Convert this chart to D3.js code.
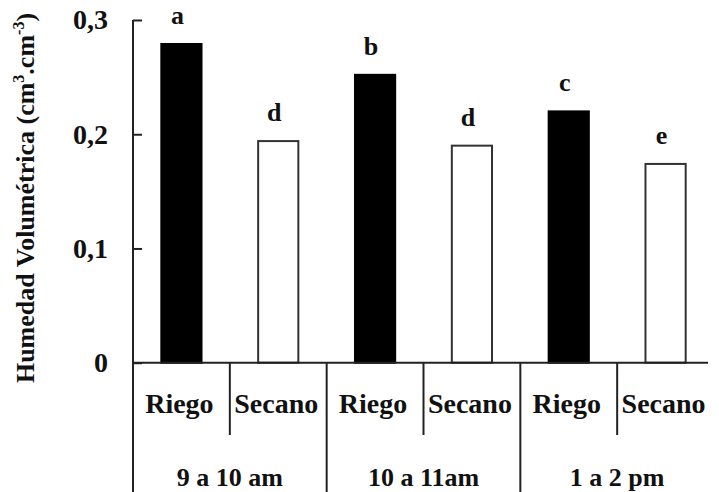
<!DOCTYPE html>
<html>
<head>
<meta charset="utf-8">
<script src="https://cdn.jsdelivr.net/npm/d3@7"></script>
<style>
  body { margin: 0; background: #fff; }
  text { font-family: "Liberation Serif", "Times New Roman", serif; font-weight: bold; fill: #111; }
</style>
</head>
<body>
<div class="chart"></div>
<script>
// DATA
const periods = ["9 a 10 am", "10 a 11am", "1 a 2 pm"];
const treatments = ["Riego", "Secano"];
const riegoValues = [0.279, 0.252, 0.220];
const secanoValues = [0.194, 0.190, 0.174];
const riegoLetters = ["a", "b", "c"];
const secanoLetters = ["d", "d", "e"];
const yTicks = [0, 0.1, 0.2, 0.3];

// GLOBAL CONSTANTS
const FRAME_WIDTH = 719;
const FRAME_HEIGHT = 492;
const AXIS_X = 133;
const PLOT_RIGHT = 714;
const BASE_Y = 362.7;
const TOP_Y = 20;
const LINE_END = 708;
const FONT = 26;

// flatten into one row per bar
const data = [];
periods.forEach((p, i) => {
  data.push({period: p, treat: "Riego", value: riegoValues[i], letter: riegoLetters[i]});
  data.push({period: p, treat: "Secano", value: secanoValues[i], letter: secanoLetters[i]});
});
data.forEach(d => d.key = d.period + "|" + d.treat);

const FRAME = d3.select(".chart")
  .append("svg")
    .attr("width", FRAME_WIDTH)
    .attr("height", FRAME_HEIGHT);

FRAME.append("rect")
  .attr("width", FRAME_WIDTH)
  .attr("height", FRAME_HEIGHT)
  .attr("fill", "#fff");

const X_SCALE = d3.scaleBand()
  .domain(data.map(d => d.key))
  .range([AXIS_X, PLOT_RIGHT])
  .padding(0);

const X_GROUP = d3.scaleBand()
  .domain(periods)
  .range([AXIS_X, PLOT_RIGHT])
  .padding(0);

const Y_SCALE = d3.scaleLinear()
  .domain([0, 0.3])
  .range([BASE_Y, TOP_Y]);

const BAR_WIDTH = X_SCALE.bandwidth() * 0.415;

// Y AXIS
const yAxis = FRAME.append("g")
  .attr("transform", "translate(" + AXIS_X + ",0)")
  .call(d3.axisLeft(Y_SCALE)
    .tickValues(yTicks)
    .tickSize(-9)
    .tickPadding(25)
    .tickFormat(d => d === 0 ? "0" : d3.format(".1f")(d).replace(".", ",")));
yAxis.select(".domain").remove();
yAxis.selectAll("line").attr("stroke", "#222").attr("stroke-width", 2);
yAxis.selectAll("text")
  .attr("font-size", "28px")
  .attr("font-family", "Liberation Serif, serif")
  .attr("font-weight", "bold")
  .attr("fill", "#111");

// vertical axis line, continues down as first separator
FRAME.append("line")
  .attr("x1", AXIS_X).attr("x2", AXIS_X)
  .attr("y1", Y_SCALE(0.3)).attr("y2", FRAME_HEIGHT)
  .attr("stroke", "#222").attr("stroke-width", 2);

// BARS
FRAME.selectAll(".bar")
  .data(data)
  .enter()
  .append("rect")
    .attr("class", "bar")
    .attr("x", d => X_SCALE(d.key) + (X_SCALE.bandwidth() - BAR_WIDTH) / 2)
    .attr("y", d => Y_SCALE(d.value))
    .attr("width", BAR_WIDTH)
    .attr("height", d => BASE_Y - Y_SCALE(d.value))
    .attr("fill", d => d.treat === "Riego" ? "#000" : "#fff")
    .attr("stroke", d => d.treat === "Riego" ? "#000" : "#333")
    .attr("stroke-width", 2);

// letters above bars
FRAME.selectAll(".letter")
  .data(data)
  .enter()
  .append("text")
    .attr("class", "letter")
    .attr("x", d => X_SCALE(d.key) + X_SCALE.bandwidth() / 2 - 4)
    .attr("y", d => Y_SCALE(d.value) - 20)
    .attr("text-anchor", "middle")
    .attr("font-size", FONT + "px")
    .text(d => d.letter);

// baseline
FRAME.append("line")
  .attr("x1", AXIS_X).attr("x2", LINE_END)
  .attr("y1", BASE_Y).attr("y2", BASE_Y)
  .attr("stroke", "#222").attr("stroke-width", 2);

// X AXIS: treatment labels and separators
FRAME.selectAll(".sub-sep")
  .data(periods)
  .enter()
  .append("line")
    .attr("x1", p => X_SCALE(p + "|Secano")).attr("x2", p => X_SCALE(p + "|Secano"))
    .attr("y1", BASE_Y).attr("y2", 435)
    .attr("stroke", "#222").attr("stroke-width", 2);

FRAME.selectAll(".group-sep")
  .data(periods.slice(1))
  .enter()
  .append("line")
    .attr("x1", p => X_GROUP(p)).attr("x2", p => X_GROUP(p))
    .attr("y1", BASE_Y).attr("y2", FRAME_HEIGHT)
    .attr("stroke", "#222").attr("stroke-width", 2);

FRAME.selectAll(".cat-label")
  .data(data)
  .enter()
  .append("text")
    .attr("x", d => X_SCALE(d.key) + X_SCALE.bandwidth() / 2 - 2)
    .attr("y", 413)
    .attr("text-anchor", "middle")
    .attr("font-size", "28px")
    .text(d => d.treat);

FRAME.selectAll(".group-label")
  .data(periods)
  .enter()
  .append("text")
    .attr("x", p => X_GROUP(p) + X_GROUP.bandwidth() / 2)
    .attr("y", 486)
    .attr("text-anchor", "middle")
    .attr("font-size", FONT + "px")
    .text(p => p);

// Y TITLE
const title = FRAME.append("text")
  .attr("transform", "translate(34,198) rotate(-90)")
  .attr("text-anchor", "middle")
  .attr("font-size", FONT + "px");
title.append("tspan").text("Humedad Volumétrica (cm");
title.append("tspan").attr("font-size", "16px").attr("dy", -10).text("3");
title.append("tspan").attr("dy", 10).text(".cm");
title.append("tspan").attr("font-size", "16px").attr("dy", -10).text("-3");
title.append("tspan").attr("dy", 10).text(")");
</script>
</body>
</html>
